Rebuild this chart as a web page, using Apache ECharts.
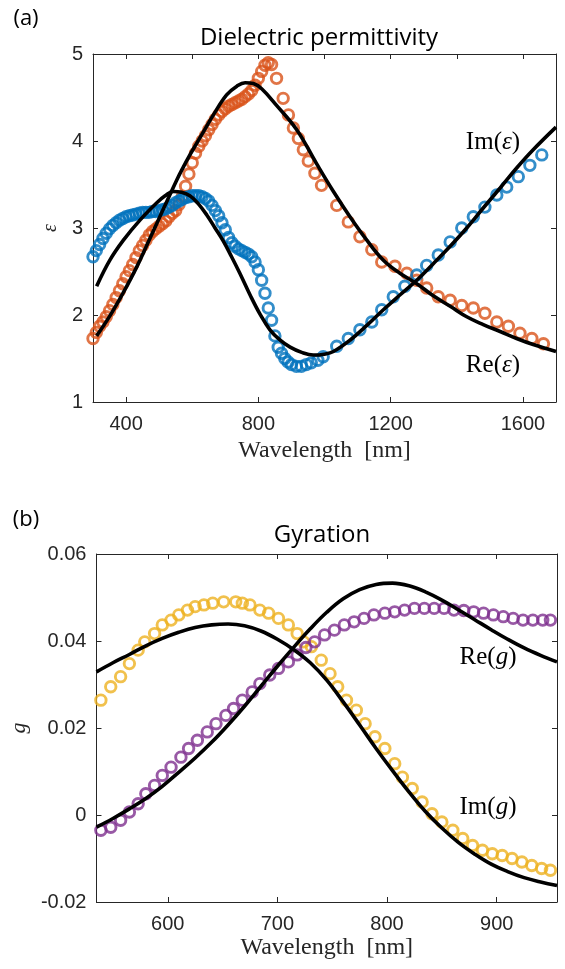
<!DOCTYPE html>
<html>
<head>
<meta charset="utf-8">
<script src="https://cdn.jsdelivr.net/npm/echarts@6/dist/echarts.min.js"></script>
<style>
html,body{margin:0;padding:0;background:#fff;}
#chart{width:565px;height:969px;}
</style>
</head>
<body>
<div id="chart"></div>
<script>
// ---------- Panel (a): dielectric permittivity ----------
const epsImData = [
[300,1.73],[310,1.80],[320,1.87],[330,1.92],[340,1.98],[350,2.05],[360,2.12],[370,2.20],[380,2.28],[390,2.36],
[400,2.44],[410,2.51],[420,2.58],[430,2.66],[440,2.74],[450,2.80],[460,2.86],[470,2.92],[480,2.96],[490,2.99],
[500,3.02],[510,3.05],[520,3.08],[530,3.13],[540,3.17],[550,3.20],[560,3.27],[570,3.36],[580,3.48],[590,3.62],
[600,3.75],[610,3.86],[620,3.94],[630,4.00],[640,4.06],[650,4.13],[660,4.19],[670,4.25],[680,4.30],[690,4.34],
[700,4.37],[710,4.40],[720,4.42],[730,4.44],[740,4.46],[750,4.48],[760,4.51],[770,4.54],[780,4.58],[790,4.64],
[800,4.72],[810,4.80],[820,4.87],[830,4.90],[840,4.88],[855,4.72],[875,4.49],[891,4.30],[906,4.15],[921,4.03],
[936,3.90],[951,3.77],[971,3.63],[991,3.49],[1037,3.26],[1072,3.07],[1107,2.90],[1143,2.75],[1173,2.61],[1213,2.56],
[1249,2.48],[1279,2.40],[1309,2.31],[1344,2.21],[1380,2.17],[1415,2.11],[1450,2.08],[1485,2.02],[1521,1.92],[1556,1.87],
[1591,1.79],[1627,1.73],[1662,1.67]
];
const epsReData = [
[300,2.67],[310,2.74],[320,2.81],[330,2.88],[340,2.94],[350,2.99],[360,3.03],[370,3.06],[380,3.09],[390,3.11],
[400,3.13],[410,3.14],[420,3.15],[430,3.16],[440,3.17],[450,3.18],[460,3.18],[470,3.18],[480,3.19],[490,3.19],
[500,3.20],[510,3.21],[520,3.22],[530,3.24],[540,3.26],[550,3.29],[560,3.31],[570,3.33],[580,3.35],[590,3.36],
[600,3.37],[610,3.37],[620,3.37],[630,3.36],[640,3.34],[650,3.31],[660,3.26],[670,3.20],[680,3.14],[690,3.06],
[700,2.98],[710,2.89],[720,2.83],[730,2.79],[740,2.76],[750,2.74],[760,2.72],[770,2.70],[780,2.67],[790,2.61],
[800,2.52],[810,2.40],[820,2.25],[830,2.08],[840,1.94],[850,1.76],[860,1.63],[870,1.56],[880,1.50],[890,1.46],
[900,1.43],[915,1.41],[930,1.41],[945,1.43],[960,1.45],[980,1.48],[996,1.52],[1037,1.64],[1072,1.73],[1107,1.83],
[1143,1.92],[1173,2.06],[1208,2.21],[1243,2.33],[1279,2.46],[1309,2.57],[1344,2.69],[1380,2.84],[1415,3.00],[1450,3.13],
[1485,3.24],[1521,3.38],[1551,3.47],[1586,3.59],[1621,3.72],[1657,3.84]
];
const epsReFit = [
[311,2.33],[351,2.63],[392,2.86],[442,3.09],[493,3.29],[518,3.37],[543,3.42],[568,3.41],[593,3.37],[618,3.28],
[644,3.15],[669,3.00],[694,2.85],[719,2.67],[744,2.48],[775,2.23],[805,2.01],[835,1.83],[866,1.71],[896,1.63],
[931,1.57],[966,1.54],[1000,1.55],[1027,1.58],[1077,1.71],[1128,1.88],[1178,2.06],[1228,2.23],[1279,2.40],[1329,2.59],
[1380,2.79],[1430,3.00],[1480,3.23],[1531,3.46],[1581,3.69],[1631,3.90],[1700,4.16]
];
const epsImFit = [
[311,1.76],[351,1.99],[392,2.26],[432,2.55],[472,2.88],[513,3.22],[553,3.55],[573,3.70],[593,3.84],[613,3.97],
[633,4.10],[664,4.30],[704,4.53],[735,4.63],[760,4.67],[785,4.66],[810,4.60],[855,4.41],[916,4.13],[976,3.74],
[1027,3.42],[1077,3.13],[1128,2.86],[1178,2.63],[1228,2.48],[1279,2.36],[1329,2.22],[1380,2.10],[1430,1.98],[1480,1.89],
[1531,1.81],[1581,1.73],[1631,1.66],[1700,1.58]
];
const xTicksA = [400, 800, 1200, 1600];
const xMinorTicksA = [400, 600, 800, 1000, 1200, 1400, 1600];

// ---------- Panel (b): gyration ----------
const gImData = [
[539,0.0264],[548,0.0295],[557,0.0318],[565,0.0348],[573,0.0379],[579,0.0398],[588,0.0417],[595,0.0437],[603,0.0448],[610,0.0460],
[618,0.0471],[625,0.0479],[633,0.0483],[641,0.0487],[651,0.0490],[662,0.0490],[668,0.0487],[675,0.0483],[684,0.0471],[692,0.0464],
[701,0.0452],[710,0.0437],[718,0.0417],[724,0.0398],[731,0.0387],[740,0.0356],[748,0.0325],[755,0.0295],[763,0.0264],[772,0.0241],
[780,0.0210],[789,0.0180],[798,0.0153],[807,0.0118],[814,0.0087],[823,0.0061],[832,0.0030],[841,0.0003],[850,-0.0016],[860,-0.0035],
[869,-0.0054],[878,-0.0070],[887,-0.0081],[896,-0.0089],[905,-0.0093],[914,-0.0100],[923,-0.0108],[932,-0.0116],[941,-0.0123],[949,-0.0127]
];
const gReData = [
[539,-0.0035],[548,-0.0028],[557,-0.0012],[565,0.0007],[573,0.0026],[580,0.0049],[588,0.0068],[595,0.0091],[603,0.0110],[612,0.0133],
[619,0.0153],[627,0.0172],[636,0.0191],[644,0.0210],[653,0.0229],[660,0.0245],[668,0.0264],[677,0.0283],[684,0.0302],[693,0.0322],
[701,0.0337],[710,0.0352],[718,0.0368],[726,0.0385],[734,0.0398],[743,0.0414],[752,0.0425],[761,0.0437],[770,0.0444],[779,0.0452],
[788,0.0460],[798,0.0464],[807,0.0467],[816,0.0471],[825,0.0475],[834,0.0475],[843,0.0475],[852,0.0475],[861,0.0471],[870,0.0470],
[879,0.0467],[888,0.0464],[897,0.0460],[906,0.0456],[915,0.0452],[924,0.0448],[933,0.0448],[942,0.0448],[949,0.0448]
];
const gImFit = [
[535,0.0329],[550,0.0350],[565,0.0369],[580,0.0389],[595,0.0406],[610,0.0420],[625,0.0431],[640,0.0437],[655,0.0439],[670,0.0435],
[685,0.0423],[700,0.0404],[715,0.0380],[730,0.0350],[745,0.0310],[760,0.0260],[775,0.0207],[790,0.0153],[805,0.0102],[820,0.0053],
[835,0.0008],[850,-0.0030],[865,-0.0063],[880,-0.0090],[895,-0.0113],[910,-0.0130],[925,-0.0144],[940,-0.0154],[955,-0.0162]
];
const gReFit = [
[535,-0.0028],[550,-0.0008],[565,0.0014],[580,0.0038],[595,0.0066],[610,0.0098],[625,0.0131],[640,0.0167],[655,0.0207],[670,0.0250],
[685,0.0296],[700,0.0342],[715,0.0386],[730,0.0428],[745,0.0466],[760,0.0497],[775,0.0518],[790,0.0530],[805,0.0533],[820,0.0527],
[835,0.0513],[850,0.0494],[865,0.0472],[880,0.0449],[895,0.0426],[910,0.0404],[925,0.0384],[940,0.0367],[955,0.0352]
];
const xTicksB = [600, 700, 800, 900];

const AX = '#262626';
const TICKFONT = {color: AX, fontSize: 20, fontFamily: 'Liberation Sans'};
const SERIF = 'Liberation Serif';

function xAx(grid, min, max, labelVals, tickVals, pos, showLabel) {
  return {
    type: 'value', gridIndex: grid, min: min, max: max, position: pos,
    axisLine: {show: true, onZero: false, lineStyle: {color: AX, width: 1}},
    axisTick: {show: true, inside: true, length: 5, customValues: tickVals, lineStyle: {color: AX}},
    axisLabel: Object.assign({show: showLabel, margin: 12, customValues: labelVals, formatter: v => String(v)}, TICKFONT),
    splitLine: {show: false}
  };
}
function yAx(grid, min, max, interval, pos, showLabel, fmt) {
  return {
    type: 'value', gridIndex: grid, min: min, max: max, interval: interval, position: pos,
    axisLine: {show: true, onZero: false, lineStyle: {color: AX, width: 1}},
    axisTick: {show: true, inside: true, length: 5, lineStyle: {color: AX}},
    axisLabel: Object.assign({show: showLabel, margin: 10, formatter: fmt}, TICKFONT),
    splitLine: {show: false}
  };
}
function circles(data, color, xi, yi) {
  return {
    type: 'scatter', xAxisIndex: xi, yAxisIndex: yi, data: data,
    symbol: 'circle', symbolSize: 10.5,
    itemStyle: {color: 'rgba(0,0,0,0)', borderColor: color, borderWidth: 2.9},
    silent: true, clip: false
  };
}
function fit(data, xi, yi) {
  return {
    type: 'line', xAxisIndex: xi, yAxisIndex: yi, data: data, smooth: 0.4,
    showSymbol: false, lineStyle: {color: '#000', width: 3.6}, silent: true, z: 5
  };
}

const xa0 = xAx(0, 300, 1700, xTicksA, xTicksA, 'bottom', true);
xa0.name = 'Wavelength  [nm]';
xa0.nameLocation = 'middle';
xa0.nameGap = 37;
xa0.nameTextStyle = {fontFamily: SERIF, fontSize: 24, color: AX};
const xa1 = xAx(0, 300, 1700, xTicksA, xMinorTicksA, 'top', false);
const xb0 = xAx(1, 535, 955, xTicksB, xTicksB, 'bottom', true);
xb0.name = 'Wavelength  [nm]';
xb0.nameLocation = 'middle';
xb0.nameGap = 34;
xb0.nameTextStyle = {fontFamily: SERIF, fontSize: 24, color: AX};
const xb1 = xAx(1, 535, 955, xTicksB, xTicksB, 'top', false);

const ya0 = yAx(0, 1, 5, 1, 'left', true, v => String(v));
ya0.name = 'ε'; ya0.nameLocation = 'middle'; ya0.nameRotate = 90; ya0.nameGap = 32;
ya0.nameTextStyle = {fontFamily: SERIF, fontStyle: 'italic', fontSize: 20, color: AX};
const ya1 = yAx(0, 1, 5, 1, 'right', false);
const gfmt = v => { const r = Math.round(v * 100) / 100; return r === 0 ? '0' : r.toFixed(2); };
const yb0 = yAx(1, -0.02, 0.06, 0.02, 'left', true, gfmt);
yb0.name = 'g'; yb0.nameLocation = 'middle'; yb0.nameRotate = 90; yb0.nameGap = 60;
yb0.nameTextStyle = {fontFamily: SERIF, fontStyle: 'italic', fontSize: 22, color: AX};
const yb1 = yAx(1, -0.02, 0.06, 0.02, 'right', false);

const labRich = {
  r: {fontFamily: SERIF, fontSize: 25, fill: '#000'},
  i: {fontFamily: SERIF, fontSize: 25, fontStyle: 'italic', fill: '#000'}
};
function txt(x, y, t, style) {
  return {type: 'text', x: x, y: y, style: Object.assign({text: t, align: 'center', verticalAlign: 'middle', fill: '#000'}, style)};
}
function mathTxt(x, y, t) {
  return {type: 'text', x: x, y: y, style: {text: t, align: 'center', verticalAlign: 'middle', rich: labRich, fill: '#000', fontFamily: SERIF, fontSize: 25}};
}

const chart = echarts.init(document.getElementById('chart'), null, {renderer: 'canvas'});
chart.setOption({
  animation: false,
  backgroundColor: '#fff',
  grid: [
    {left: 93, top: 54, width: 463, height: 348},
    {left: 95, top: 554, width: 462, height: 348}
  ],
  xAxis: [xa0, xa1, xb0, xb1],
  yAxis: [ya0, ya1, yb0, yb1],
  series: [
    circles(epsImData, '#D95319', 0, 0),
    circles(epsReData, '#0072BD', 0, 0),
    fit(epsReFit, 0, 0),
    fit(epsImFit, 0, 0),
    circles(gImData, '#EDB120', 2, 2),
    circles(gReData, '#7E2F8E', 2, 2),
    fit(gImFit, 2, 2),
    fit(gReFit, 2, 2)
  ],
  graphic: [
    txt(26, 19, '(a)', {fontFamily: 'Open Sans', fontSize: 22, fill: '#000'}),
    txt(319, 38, 'Dielectric permittivity', {fontFamily: 'Open Sans', fontSize: 24, fill: '#000'}),
    txt(26, 520, '(b)', {fontFamily: 'Open Sans', fontSize: 22, fill: '#000'}),
    txt(322, 535, 'Gyration', {fontFamily: 'Open Sans', fontSize: 24, fill: '#000'}),
    mathTxt(493, 142, '{r|Im(}{i|ε}{r|)}'),
    mathTxt(493, 365, '{r|Re(}{i|ε}{r|)}'),
    mathTxt(488, 657, '{r|Re(}{i|g}{r|)}'),
    mathTxt(488, 807, '{r|Im(}{i|g}{r|)}')
  ]
});
</script>
</body>
</html>
